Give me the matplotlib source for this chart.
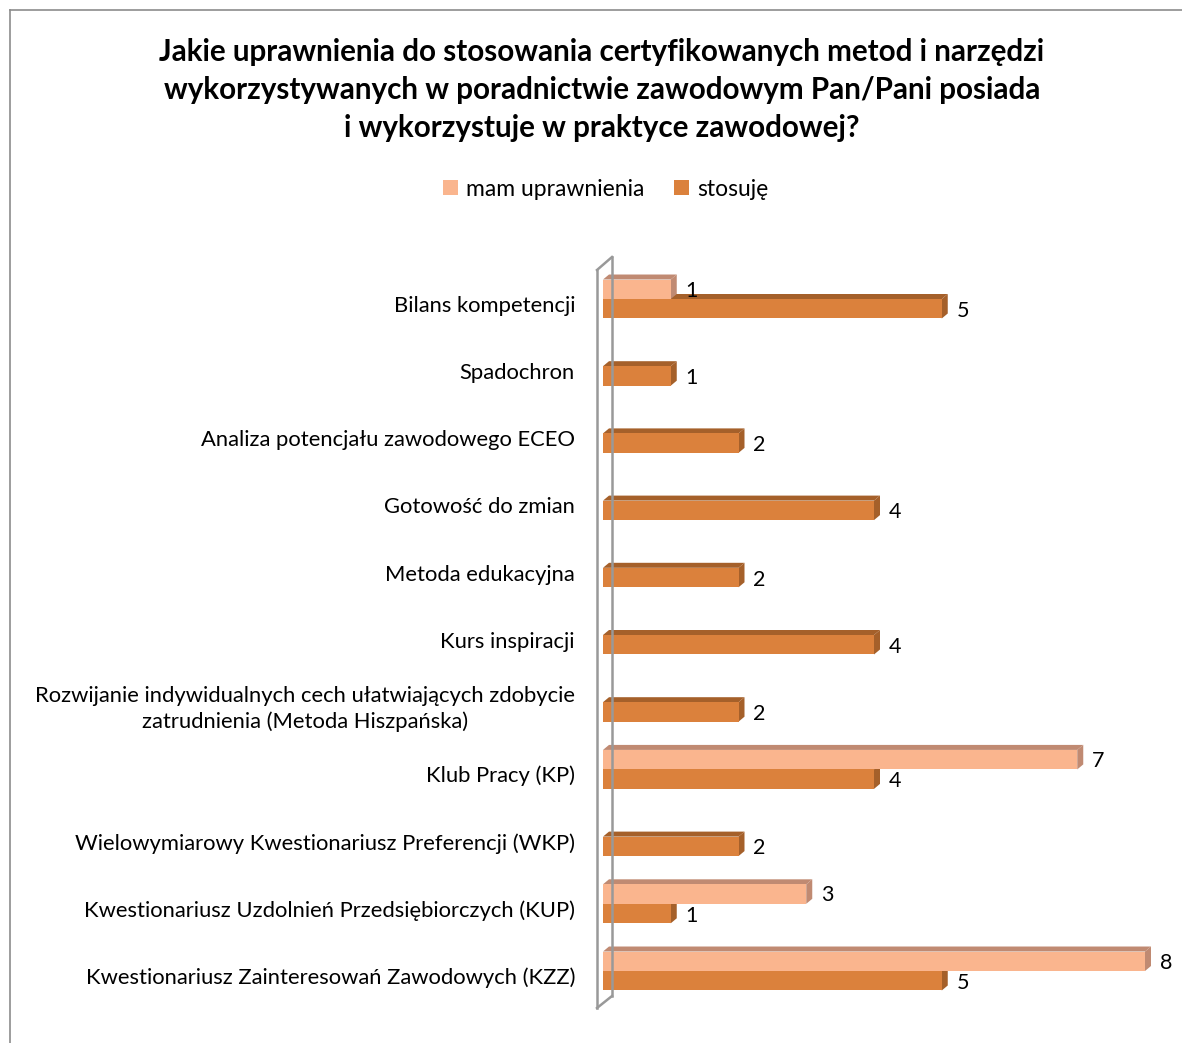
import matplotlib
matplotlib.use("Agg")
import matplotlib.pyplot as plt
from matplotlib.patches import Polygon, Rectangle
from matplotlib.lines import Line2D
import numpy as np

categories = [
    "Bilans kompetencji",
    "Spadochron",
    "Analiza potencjału zawodowego ECEO",
    "Gotowość do zmian",
    "Metoda edukacyjna",
    "Kurs inspiracji",
    "Rozwijanie indywidualnych cech ułatwiających zdobycie\nzatrudnienia (Metoda Hiszpańska)",
    "Klub Pracy (KP)",
    "Wielowymiarowy Kwestionariusz Preferencji (WKP)",
    "Kwestionariusz Uzdolnień Przedsiębiorczych (KUP)",
    "Kwestionariusz Zainteresowań Zawodowych (KZZ)",
]
mam_uprawnienia = [1, None, None, None, None, None, None, 7, None, 3, 8]
stosuje = [5, 1, 2, 4, 2, 4, 2, 4, 2, 1, 5]
series_names = ["mam uprawnienia", "stosuję"]
title = ("Jakie uprawnienia do stosowania certyfikowanych metod i narzędzi\n"
         "wykorzystywanych w poradnictwie zawodowym Pan/Pani posiada\n"
         "i wykorzystuje w praktyce zawodowej?")

FONT = "Lato"
W, H = 1182, 1043
fig = plt.figure(figsize=(W / 100, H / 100), dpi=100)

# outer frame lines
fig.add_artist(Line2D([10 / W, 1.0], [1 - 10 / H, 1 - 10 / H], color="#8c8c8c", lw=1.2))
fig.add_artist(Line2D([10 / W, 10 / W], [0, 1 - 10 / H], color="#8c8c8c", lw=1.2))

# axes: x 0 -> px 603, 8 -> px 1145 ; y -0.5 -> px 265, 10.5 -> px 1004.6
x0, x8 = 603, 1145
ytop, ybot = 265.4, 1004.6
ax = fig.add_axes([x0 / W, 1 - ybot / H, (x8 - x0) / W, (ybot - ytop) / H])
ax.set_xlim(0, 8)
ax.set_ylim(10.5, -0.5)
ax.axis("off")

pxx = (x8 - x0) / 8.0
pxy = (ybot - ytop) / 11.0
ddx = 6 / pxx
ddy = 5 / pxy
h = 0.29

light, light_dark = "#FAB58E", "#C08A72"
dark, dark_dark = "#DB813C", "#A5602A"


def bar3d(y, v, face, shade):
    top = y - h / 2
    bot = y + h / 2
    ax.add_patch(Polygon([(0, top), (ddx, top - ddy), (v + ddx, top - ddy), (v, top)],
                         closed=True, facecolor=shade, edgecolor="none", zorder=2,
                         clip_on=False))
    ax.add_patch(Polygon([(v, top), (v + ddx, top - ddy), (v + ddx, bot - ddy), (v, bot)],
                         closed=True, facecolor=shade, edgecolor="none", zorder=2,
                         clip_on=False))
    ax.add_patch(Rectangle((0, top), v, h, facecolor=face, edgecolor="none", zorder=3,
                           clip_on=False))


ypos = np.arange(len(categories))
for i, v in enumerate(stosuje):
    y = ypos[i] + h / 2
    bar3d(y, v, dark, dark_dark)
    ax.text(v + 15 / pxx, y + 0.03, str(v), ha="left", va="center", fontsize=15.5,
            family=FONT, color="black", zorder=5)
for i, v in enumerate(mam_uprawnienia):
    if v is None:
        continue
    y = ypos[i] - h / 2
    bar3d(y, v, light, light_dark)
    ax.text(v + 15 / pxx, y + 0.02, str(v), ha="left", va="center", fontsize=15.5,
            family=FONT, color="black", zorder=5)

for i, c in enumerate(categories):
    ax.text(-28 / pxx, ypos[i] + 0.1, c, ha="right", va="center", fontsize=15.8,
            family=FONT, multialignment="center", linespacing=1.3, zorder=5)

# 3D wall at the axis
wall = dict(color="#999999", lw=1.8)
fig.add_artist(Line2D([597 / W, 597 / W], [1 - 270 / H, 1 - 1008 / H], **wall))
fig.add_artist(Line2D([612 / W, 612 / W], [1 - 257 / H, 1 - 996 / H], **wall))
fig.add_artist(Line2D([597 / W, 612 / W], [1 - 270 / H, 1 - 257 / H], **wall))
fig.add_artist(Line2D([597 / W, 612 / W], [1 - 1008 / H, 1 - 996 / H], **wall))

# title
fig.text(602 / W, 1 - 90 / H, title, ha="center", va="center", fontsize=21.3,
         fontweight="bold", family=FONT, linespacing=1.42)

# legend
handles = [Rectangle((0, 0), 1, 1, facecolor=light, edgecolor="none"),
           Rectangle((0, 0), 1, 1, facecolor=dark, edgecolor="none")]
fig.legend(handles, series_names, loc="center", bbox_to_anchor=(606 / W, 1 - 189 / H),
           ncol=2, frameon=False, prop={"family": FONT, "size": 16.5},
           handlelength=0.65, handleheight=0.65, handletextpad=0.35, columnspacing=1.3)

fig.savefig("out.png", dpi=100)
